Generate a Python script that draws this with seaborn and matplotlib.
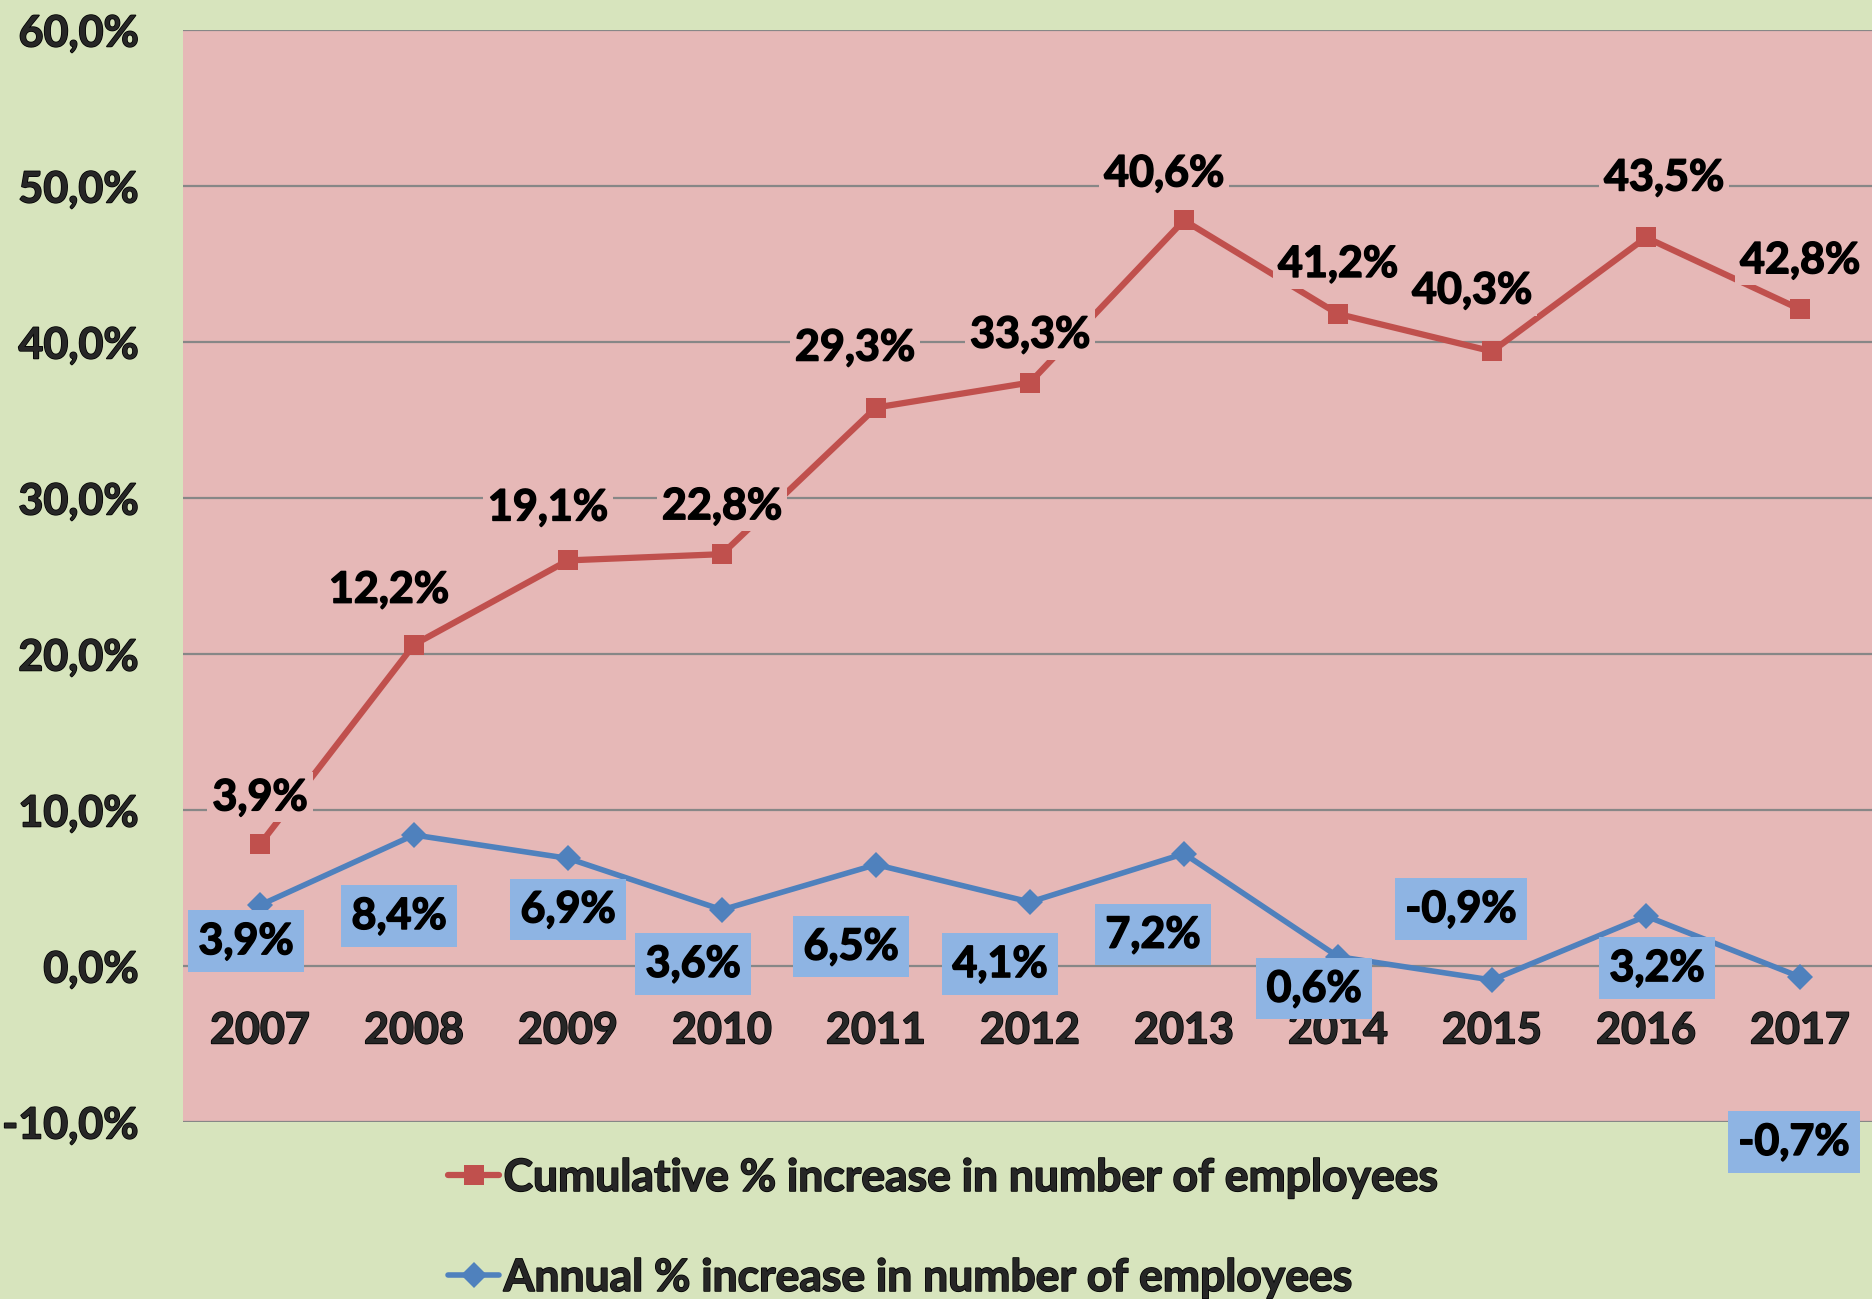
import numpy as np
import pandas as pd
import matplotlib
matplotlib.use("Agg")
import matplotlib.pyplot as plt
import matplotlib.patheffects as pe
import seaborn as sns
from matplotlib.lines import Line2D
from matplotlib.ticker import FuncFormatter

# ---- data ----
years = [2007, 2008, 2009, 2010, 2011, 2012, 2013, 2014, 2015, 2016, 2017]
cumulative = [3.9, 12.2, 19.1, 22.8, 29.3, 33.3, 40.6, 41.2, 40.3, 43.5, 42.8]
annual = [3.9, 8.4, 6.9, 3.6, 6.5, 4.1, 7.2, 0.6, -0.9, 3.2, -0.7]
y_ticks = [-10, 0, 10, 20, 30, 40, 50, 60]
series_names = ["Cumulative % increase in number of employees",
                "Annual % increase in number of employees"]

# label offsets (pixels, dx, dy-up) – placement only
cum_offsets = [(0, 47), (-25, 55), (-20, 53), (0, 48), (-21, 60), (0, 48),
               (-20, 47), (0, 50), (-20, 61), (18, 60), (0, 49)]
ann_offsets = [(-14, -36), (-15, -81), (0, -51), (-29, -54), (-25, -82), (-30, -62),
               (-31, -81), (-24, -32), (-31, 71), (11, -52), (-6, -165)]

# stacked line chart: the cumulative series is drawn stacked on the annual one
stacked = list(np.add(annual, cumulative))

df = pd.DataFrame({"year": years, "annual": annual, "stacked": stacked})

sns.set_style("white")
FONT = ["Lato", "DejaVu Sans"]
WEIGHT = "bold"
plt.rcParams["font.family"] = FONT
plt.rcParams["font.weight"] = WEIGHT

BG = "#D7E4BD"
PLOT = "#E6B8B7"
RED = "#C0504D"
BLUE = "#4F81BD"
BOX = "#8EB4E3"
GRID = "#878787"
FS = 31
DPI = 100
THICK = [pe.withStroke(linewidth=1.1, foreground="black")]

fig = plt.figure(figsize=(18.72, 12.99), dpi=DPI, facecolor=BG)
ax = fig.add_axes([183 / 1872, 1 - 1122 / 1299, 1694 / 1872, (1122 - 30) / 1299])
ax.set_facecolor(PLOT)

sns.lineplot(data=df, x="year", y="stacked", ax=ax, color=RED, lw=4.5,
             marker="s", markersize=14, markeredgewidth=0, zorder=3)
sns.lineplot(data=df, x="year", y="annual", ax=ax, color=BLUE, lw=4,
             marker="D", markersize=13, markeredgewidth=0, zorder=3)

ax.set_xlim(years[0] - 0.5, years[-1] + 0.5)
ax.set_ylim(-10, 60)
ax.set_yticks(y_ticks)
ax.yaxis.set_major_formatter(FuncFormatter(lambda v, p: f"{v:.1f}%".replace(".", ",")))
ax.grid(axis="y", color=GRID, lw=1.6, zorder=1)
ax.set_axisbelow(True)
for s in ax.spines.values():
    s.set_visible(False)
ax.tick_params(axis="y", length=0, pad=32, labelsize=FS)
ax.set_xticks(years)
ax.set_xticklabels([str(y) for y in years])
ax.spines["bottom"].set_position(("data", 0))
ax.tick_params(axis="x", length=0, pad=32, labelsize=FS)
ax.set_xlabel("")
ax.set_ylabel("")
if ax.get_legend():
    ax.get_legend().remove()
for t in ax.get_xticklabels() + ax.get_yticklabels():
    t.set_path_effects(THICK)

px = 72 / DPI
for x, yv, lab, (dx, dy) in zip(years, stacked, cumulative, cum_offsets):
    ax.annotate(f"{lab:.1f}%".replace(".", ","), (x, yv), xytext=(dx * px, dy * px),
                textcoords="offset points", ha="center", va="center",
                fontsize=FS, fontweight=WEIGHT, color="black", zorder=5,
                bbox=dict(boxstyle="square,pad=0.12", fc=PLOT, ec="none"),
                annotation_clip=False, path_effects=THICK)
for x, yv, (dx, dy) in zip(years, annual, ann_offsets):
    ax.annotate(f"{yv:.1f}%".replace(".", ","), (x, yv), xytext=(dx * px, dy * px),
                textcoords="offset points", ha="center", va="center",
                fontsize=FS, fontweight=WEIGHT, color="black", zorder=5,
                bbox=dict(boxstyle="square,pad=0.25", fc=BOX, ec="none"),
                annotation_clip=False, path_effects=THICK)

handles = [Line2D([], [], color=RED, lw=4.5, marker="s", markersize=14, markeredgewidth=0),
           Line2D([], [], color=BLUE, lw=4, marker="D", markersize=13, markeredgewidth=0)]
leg = fig.legend(handles, series_names, loc="upper left",
                 bbox_to_anchor=(448 / 1872, 1 - 1158 / 1299), frameon=False,
                 fontsize=32, handlelength=1.15, handletextpad=0.1, labelspacing=1.35,
                 borderaxespad=0, borderpad=0)
for t in leg.get_texts():
    t.set_path_effects(THICK)

fig.savefig("out.png", dpi=DPI, facecolor=BG)
